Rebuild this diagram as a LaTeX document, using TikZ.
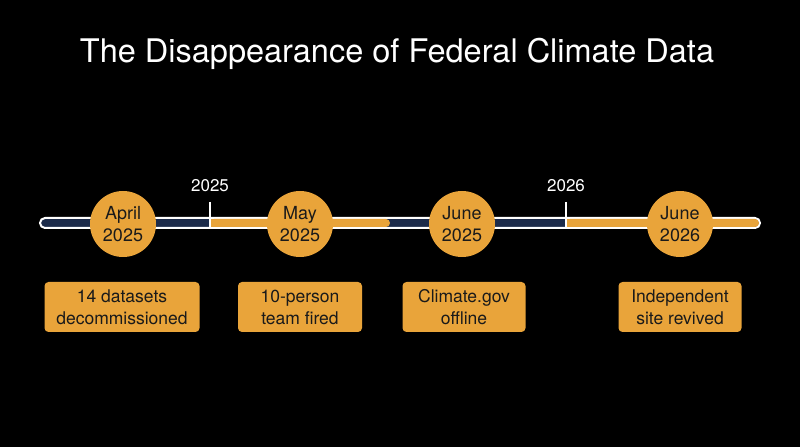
\documentclass[tikz,border=0pt]{standalone}
\usepackage{fontspec}
\setmainfont{TeX Gyre Heros}
\definecolor{accent}{HTML}{E9A43A}
\definecolor{navy}{HTML}{1C2B4A}
\definecolor{ink}{HTML}{1A1A1A}
\begin{document}
\begin{tikzpicture}[x=1pt,y=1pt,
  eventdot/.style={circle,fill=accent,minimum size=66pt,inner sep=0pt,align=center,
    font=\fontsize{18}{21.5}\selectfont,text=ink},
  eventbox/.style={rounded corners=4pt,fill=accent,minimum height=50pt,inner sep=0pt,align=center,
    font=\fontsize{17.5}{22}\selectfont,text=ink},
  yearlabel/.style={text=white,font=\fontsize{17}{20}\selectfont},
  tickline/.style={draw=white,line width=1.3pt}]
\fill[black] (0,0) rectangle (800,447);
\useasboundingbox (0,0) rectangle (800,447);
% title
\node[text=white,font=\fontsize{32.5}{38}\selectfont] (title) at (397,393) {The Disappearance of Federal Climate Data};
% bar
\coordinate (barL) at (42,224);
\coordinate (barR) at (758,224);
\draw[white,line width=2pt,fill=navy,rounded corners=5pt] (40,219) rectangle (760,229);
\fill[accent,rounded corners=4pt] (210,220) rectangle (390,228);
\fill[accent] (210,220) rectangle (300,228);
\fill[accent,rounded corners=4pt] (566,220) rectangle (759,228);
\fill[accent] (566,220) rectangle (640,228);
% ticks
\coordinate (t1a) at (210,245);
\coordinate (t1b) at (210,220);
\coordinate (t2a) at (566,245);
\coordinate (t2b) at (566,220);
\draw[tickline] (t1a) -- (t1b);
\draw[tickline] (t2a) -- (t2b);
\node[yearlabel] (y1) at (210,261) {2025};
\node[yearlabel] (y2) at (566,261) {2026};
% circles
\node[eventdot] (c1) at (123,223) {April\\2025};
\node[eventdot] (c2) at (300,223) {May\\2025};
\node[eventdot] (c3) at (462,223) {June\\2025};
\node[eventdot] (c4) at (680,223) {June\\2026};
% boxes
\node[eventbox,minimum width=155pt] (b1) at (122,140) {14 datasets\\decommissioned};
\node[eventbox,minimum width=124pt] (b2) at (300,140) {10-person\\team fired};
\node[eventbox,minimum width=123pt] (b3) at (464,140) {Climate.gov\\offline};
\node[eventbox,minimum width=123pt] (b4) at (680,140) {Independent\\site revived};
\end{tikzpicture}
\end{document}
